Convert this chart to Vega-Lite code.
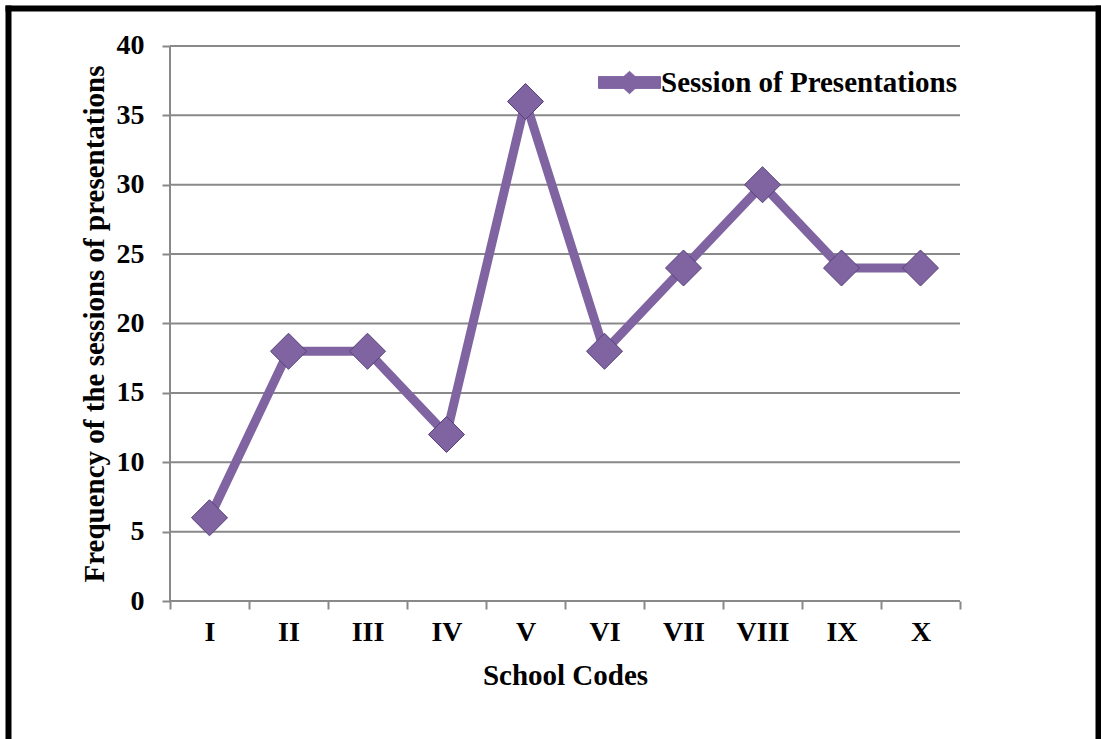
{
  "$schema": "https://vega.github.io/schema/vega-lite/v6.json",
  "width": 1090,
  "height": 731,
  "autosize": {"type": "none"},
  "padding": {"left": 8, "top": 8, "right": 3, "bottom": 0},
  "background": "white",
  "config": {"view": {"stroke": null}, "font": "Liberation Serif"},
  "layer": [
    {
      "data": {"values": [{"edge": 0}]},
      "mark": {"type": "rule", "strokeOpacity": 0},
      "encoding": {
        "y": {"field": "edge", "type": "quantitative",
          "scale": {"domain": [-9.9459, 42.7387], "nice": false, "zero": false},
          "axis": {"orient": "left", "offset": 0, "domain": true, "domainColor": "black", "domainWidth": 6, "domainCap": "square", "ticks": false, "labels": false, "grid": false, "title": null}},
        "x": {"field": "edge", "type": "quantitative", "scale": {"domain": [0, 1], "nice": false},
          "axis": {"orient": "top", "offset": 0, "domain": true, "domainColor": "black", "domainWidth": 6, "domainCap": "square", "ticks": false, "labels": false, "grid": false, "title": null}}
      }
    },
    {
      "data": {"values": [{"edge": 0}]},
      "mark": {"type": "rule", "strokeOpacity": 0},
      "encoding": {
        "y": {"field": "edge", "type": "quantitative",
          "axis": {"orient": "right", "offset": 0, "domain": true, "domainColor": "black", "domainWidth": 6, "domainCap": "square", "ticks": false, "labels": false, "grid": false, "title": null}},
        "x": {"field": "edge", "type": "quantitative", "scale": {"domain": [0, 1], "nice": false}, "axis": null}
      }
    },
    {
      "data": {"values": [{"level": 0}, {"level": 5}, {"level": 10}, {"level": 15}, {"level": 20}, {"level": 25}, {"level": 30}, {"level": 35}, {"level": 40}]},
      "mark": {"type": "rule", "color": "#898989", "strokeWidth": 2},
      "encoding": {
        "y": {"field": "level", "type": "quantitative", "axis": null},
        "x": {"datum": "I", "type": "nominal", "bandPosition": 0,
          "scale": {"type": "band", "domain": ["I", "II", "III", "IV", "V", "VI", "VII", "VIII", "IX", "X"], "range": [162, 952], "paddingInner": 0, "paddingOuter": 0},
          "axis": null},
        "x2": {"datum": "X", "bandPosition": 1}
      }
    },
    {
      "data": {"values": [{"from": 0, "to": 40}]},
      "mark": {"type": "rule", "color": "#898989", "strokeWidth": 2},
      "encoding": {
        "y": {"field": "from", "type": "quantitative", "axis": null},
        "y2": {"field": "to"},
        "x": {"datum": "I", "type": "nominal", "bandPosition": 0,
          "scale": {"type": "band", "domain": ["I", "II", "III", "IV", "V", "VI", "VII", "VIII", "IX", "X"], "range": [162, 952], "paddingInner": 0, "paddingOuter": 0},
          "axis": null}
      }
    },
    {
      "data": {"values": [
        {"school": "I", "sessions": 6, "series": "Session of Presentations"},
        {"school": "II", "sessions": 18, "series": "Session of Presentations"},
        {"school": "III", "sessions": 18, "series": "Session of Presentations"},
        {"school": "IV", "sessions": 12, "series": "Session of Presentations"},
        {"school": "V", "sessions": 36, "series": "Session of Presentations"},
        {"school": "VI", "sessions": 18, "series": "Session of Presentations"},
        {"school": "VII", "sessions": 24, "series": "Session of Presentations"},
        {"school": "VIII", "sessions": 30, "series": "Session of Presentations"},
        {"school": "IX", "sessions": 24, "series": "Session of Presentations"},
        {"school": "X", "sessions": 24, "series": "Session of Presentations"}
      ]},
      "encoding": {
        "x": {"field": "school", "type": "nominal", "sort": null,
          "scale": {"type": "band", "domain": ["I", "II", "III", "IV", "V", "VI", "VII", "VIII", "IX", "X"], "range": [162, 952], "paddingInner": 0, "paddingOuter": 0},
          "axis": {"orient": "bottom", "offset": -138, "domain": false, "tickBand": "extent", "ticks": true, "tickSize": 8, "tickColor": "#898989", "tickWidth": 2, "labelAngle": 0, "labelPadding": 9, "labelFont": "Liberation Serif", "labelFontSize": 28, "labelFontWeight": "bold", "labelColor": "black", "grid": false,
            "title": "School Codes", "titleFont": "Liberation Serif", "titleFontSize": 29, "titleFontWeight": "bold", "titleColor": "black", "titleX": 557, "titlePadding": 15}},
        "y": {"field": "sessions", "type": "quantitative",
          "axis": {"orient": "left", "offset": -162, "domain": false, "values": [0, 5, 10, 15, 20, 25, 30, 35, 40], "ticks": true, "tickSize": 8, "tickColor": "#898989", "tickWidth": 2, "labelPadding": 18, "labelFont": "Liberation Serif", "labelFontSize": 28, "labelFontWeight": "bold", "labelColor": "black", "grid": false,
            "title": "Frequency of the sessions of presentations", "titleFont": "Liberation Serif", "titleFontSize": 29, "titleFontWeight": "bold", "titleColor": "black", "titleY": 315.5, "titlePadding": 7}},
        "color": {"field": "series", "type": "nominal", "scale": {"range": ["#8064A2"]},
          "legend": {"orient": "none", "legendX": 590, "legendY": 43, "title": null,
            "symbolType": "M-1,-0.19L1,-0.19L1,0.19L-1,0.19Z M0,-0.36L0.39,0L0,0.36L-0.39,0Z",
            "symbolSize": 3844, "labelFont": "Liberation Serif", "labelFontSize": 29, "labelFontWeight": "bold", "labelColor": "black", "labelLimit": 600, "labelOffset": 0, "padding": 0,
            "encode": {"symbols": {"update": {"fill": {"value": "#8064A2"}, "stroke": {"value": "#5a4380"}, "strokeWidth": {"value": 1}, "opacity": {"value": 1}}}}}}
      },
      "layer": [
        {"mark": {"type": "line", "strokeWidth": 9}},
        {"mark": {"type": "point", "shape": "diamond", "size": 1300, "filled": true, "opacity": 1, "stroke": "#55407a", "strokeWidth": 1}}
      ]
    }
  ],
  "resolve": {"scale": {"x": "independent"}, "axis": {"x": "independent", "y": "independent"}}
}
